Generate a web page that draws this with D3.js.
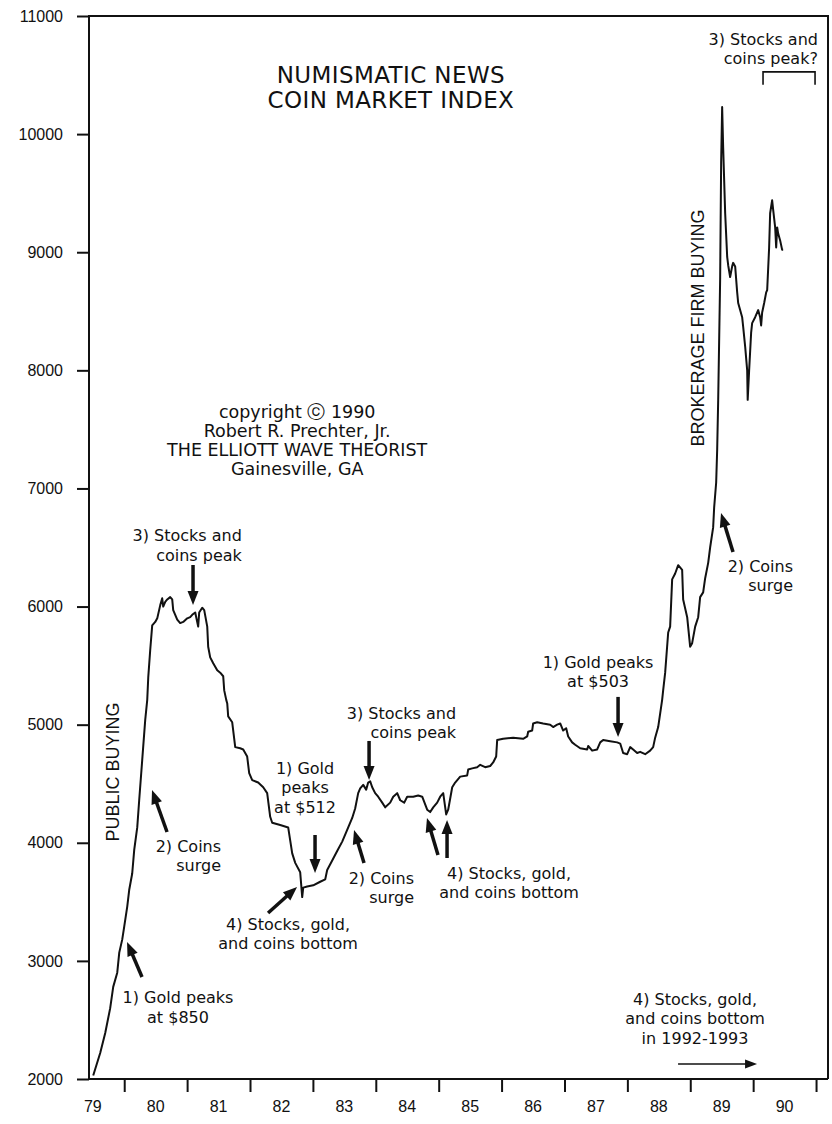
<!DOCTYPE html>
<html>
<head>
<meta charset="utf-8">
<script src="https://cdn.jsdelivr.net/npm/d3@7"></script>
<style>
body { margin: 0; background: #fff; }
text { fill: #111; }
.ann { font-family: "DejaVu Sans", sans-serif; font-size: 16px; }
.title { font-family: "DejaVu Sans", sans-serif; font-size: 23px; letter-spacing: 0.4px; }
.copy { font-family: "DejaVu Sans", sans-serif; font-size: 17.5px; }
.vert { font-family: "Liberation Sans", Arial, sans-serif; font-size: 18px; }
.tl { font-family: "Liberation Sans", Arial, sans-serif; font-size: 16px; }
</style>
</head>
<body>
<svg width="832" height="1124"></svg>
<script>
// Coin market index (decimal year, index value)
var dates = [
 1979.507,1979.618,1979.698,1979.777,1979.825,1979.889,1979.921,1979.968,1980.000,1980.048,
 1980.079,1980.127,1980.159,1980.207,1980.238,1980.286,1980.334,1980.366,1980.382,1980.413,
 1980.445,1980.493,1980.525,1980.572,1980.604,1980.620,1980.652,1980.684,1980.731,1980.763,
 1980.779,1980.843,1980.890,1980.938,1981.002,1981.049,1981.081,1981.129,1981.176,1981.192,
 1981.240,1981.272,1981.320,1981.335,1981.367,1981.415,1981.479,1981.526,1981.574,1981.590,
 1981.622,1981.638,1981.653,1981.717,1981.765,1981.844,1981.892,1981.955,1981.987,1982.035,
 1982.130,1982.210,1982.273,1982.321,1982.353,1982.480,1982.607,1982.639,1982.671,1982.719,
 1982.798,1982.830,1982.846,1982.909,1983.005,1983.116,1983.196,1983.227,1983.307,1983.386,
 1983.466,1983.545,1983.625,1983.672,1983.720,1983.752,1983.800,1983.847,1983.879,1983.911,
 1983.943,1983.990,1984.038,1984.102,1984.149,1984.229,1984.277,1984.340,1984.388,1984.452,
 1984.499,1984.595,1984.674,1984.738,1984.817,1984.865,1984.913,1984.976,1985.024,1985.072,
 1985.119,1985.151,1985.215,1985.262,1985.342,1985.453,1985.469,1985.533,1985.612,1985.660,
 1985.739,1985.819,1985.866,1985.914,1985.930,1986.025,1986.184,1986.343,1986.407,1986.423,
 1986.486,1986.502,1986.566,1986.661,1986.773,1986.820,1986.884,1986.932,1986.979,1987.027,
 1987.059,1987.122,1987.170,1987.250,1987.361,1987.377,1987.440,1987.520,1987.568,1987.615,
 1987.727,1987.838,1987.886,1987.933,1987.997,1988.045,1988.092,1988.156,1988.203,1988.283,
 1988.362,1988.410,1988.442,1988.490,1988.553,1988.569,1988.601,1988.649,1988.680,1988.712,
 1988.760,1988.808,1988.871,1988.887,1988.951,1988.998,1989.030,1989.078,1989.126,1989.157,
 1989.205,1989.237,1989.285,1989.316,1989.364,1989.380,1989.412,1989.428,1989.444,1989.475,
 1989.491,1989.507,1989.523,1989.555,1989.587,1989.603,1989.634,1989.666,1989.682,1989.714,
 1989.746,1989.762,1989.793,1989.825,1989.841,1989.873,1989.905,1989.913,1989.936,1989.968,
 1989.984,1990.032,1990.064,1990.080,1990.111,1990.127,1990.143,1990.175,1990.207,1990.223,
 1990.254,1990.270,1990.302,1990.318,1990.350,1990.366,1990.382,1990.397,1990.429,1990.461,
 1990.477
];
var values = [
 2030,2220,2390,2600,2780,2900,3070,3180,3290,3460,
 3600,3740,3940,4130,4360,4700,5040,5210,5400,5630,
 5840,5870,5900,6010,6070,6000,6040,6060,6080,6060,
 5970,5890,5860,5870,5900,5910,5930,5950,5830,5950,
 5990,5970,5830,5660,5570,5520,5460,5440,5410,5290,
 5210,5180,5070,5020,4810,4800,4790,4730,4590,4530,
 4510,4470,4420,4220,4170,4150,4130,4020,3910,3830,
 3750,3540,3620,3630,3640,3670,3690,3770,3850,3930,
 4010,4110,4210,4290,4420,4460,4490,4450,4510,4520,
 4470,4420,4390,4340,4300,4340,4390,4420,4360,4340,
 4390,4390,4400,4390,4280,4260,4300,4340,4390,4420,
 4240,4280,4470,4510,4560,4570,4620,4630,4640,4660,
 4640,4650,4680,4730,4870,4880,4890,4880,4900,4940,
 4950,5010,5020,5010,5000,4980,5000,5010,4950,4970,
 4900,4850,4830,4800,4790,4820,4780,4790,4850,4870,
 4860,4850,4840,4760,4750,4810,4790,4760,4770,4750,
 4780,4810,4890,4980,5210,5290,5440,5780,5830,6230,
 6280,6350,6310,6060,5910,5660,5690,5830,5910,6080,
 6120,6240,6370,6500,6670,6840,7050,7330,7750,8770,
 9760,10230,9890,9330,8960,8890,8790,8880,8910,8880,
 8660,8570,8510,8450,8370,8200,8000,7750,8000,8320,
 8400,8450,8490,8510,8450,8380,8490,8570,8660,8680,
 9040,9330,9440,9360,9210,9040,9210,9160,9100,9020,
 9020
];
var yTicks = [2000, 3000, 4000, 5000, 6000, 7000, 8000, 9000, 10000, 11000];
var yearTicks = [1980, 1981, 1982, 1983, 1984, 1985, 1986, 1987, 1988, 1989, 1990, 1991];
var yearLabels = ["79", "80", "81", "82", "83", "84", "85", "86", "87", "88", "89", "90"];

// text notes, anchored in (year, index) units
var notes = [
  {cls: "title", lines: ["NUMISMATIC NEWS", "COIN MARKET INDEX"], date: 1984.24, value: 10434, anchor: "middle", lh: 25},
  {cls: "copy", lines: ["copyright \u24D2 1990", "Robert R. Prechter, Jr.", "THE ELLIOTT WAVE THEORIST", "Gainesville, GA"], date: 1982.75, value: 7597, anchor: "middle", lh: 19},
  {cls: "ann", lines: ["3) Stocks and", "coins peak"], date: 1981.87, value: 6555, anchor: "end", lh: 20},
  {cls: "ann", lines: ["1) Gold peaks", "at $850"], date: 1980.855, value: 2644, anchor: "middle", lh: 20},
  {cls: "ann", lines: ["2) Coins", "surge"], date: 1981.54, value: 3922, anchor: "end", lh: 19},
  {cls: "ann", lines: ["1) Gold", "peaks", "at $512"], date: 1982.875, value: 4583, anchor: "middle", lh: 19.5},
  {cls: "ann", lines: ["3) Stocks and", "coins peak"], date: 1985.276, value: 5048, anchor: "end", lh: 19},
  {cls: "ann", lines: ["2) Coins", "surge"], date: 1984.608, value: 3651, anchor: "end", lh: 19},
  {cls: "ann", lines: ["4) Stocks, gold,", "and coins bottom"], date: 1982.605, value: 3262, anchor: "middle", lh: 19},
  {cls: "ann", lines: ["4) Stocks, gold,", "and coins bottom"], date: 1986.119, value: 3693, anchor: "middle", lh: 19},
  {cls: "ann", lines: ["1) Gold peaks", "at $503"], date: 1987.534, value: 5480, anchor: "middle", lh: 19},
  {cls: "ann", lines: ["2) Coins", "surge"], date: 1990.634, value: 6293, anchor: "end", lh: 19},
  {cls: "ann", lines: ["3) Stocks and", "coins peak?"], date: 1991.03, value: 10755, anchor: "end", lh: 19},
  {cls: "ann", lines: ["4) Stocks, gold,", "and coins bottom", "in 1992-1993"], date: 1989.076, value: 2627, anchor: "middle", lh: 19.5}
];
var vertNotes = [
  {text: "PUBLIC BUYING", date: 1979.822, value: 4600},
  {text: "BROKERAGE FIRM BUYING", date: 1989.124, value: 8359}
];
var arrows = [
  {from: [1981.094, 6352], to: [1981.094, 6014]},
  {from: [1980.283, 2864], to: [1980.045, 3160]},
  {from: [1980.681, 4091], to: [1980.442, 4447]},
  {from: [1983.034, 4066], to: [1983.034, 3744]},
  {from: [1983.893, 4862], to: [1983.893, 4532]},
  {from: [1983.813, 3829], to: [1983.654, 4108]},
  {from: [1982.287, 3406], to: [1982.748, 3626]},
  {from: [1984.989, 3897], to: [1984.814, 4210]},
  {from: [1985.133, 3871], to: [1985.133, 4193]},
  {from: [1987.852, 5235], to: [1987.852, 4896]},
  {from: [1989.680, 6462], to: [1989.489, 6793]},
  {from: [1988.806, 2127], to: [1990.062, 2127], thin: true}
];
var bracket = {d0: 1990.157, d1: 1990.984, top: 10527, bottom: 10417};

var svg = d3.select("svg");

var x = d3.scaleLinear().domain([1979.44, 1991.19]).range([89, 828]);
var y = d3.scaleLinear().domain([2000, 11000]).range([1079, 16]);

// frame
svg.append("path")
    .attr("d", "M" + x(1991.19) + "," + y(2000) + "V" + y(11000) + "H" + x(1979.44) + "V" + y(2000) + "H" + x(1991.19))
    .attr("fill", "none")
    .attr("stroke", "#111")
    .attr("stroke-width", 2);

// y axis
var yAxis = d3.axisLeft(y).tickValues(yTicks).tickSize(12).tickPadding(14).tickFormat(d3.format("d"));
var gy = svg.append("g").attr("transform", "translate(" + x(1979.44) + ",0)").call(yAxis);
gy.select(".domain").remove();
gy.selectAll("line").attr("stroke", "#111").attr("stroke-width", 2);
gy.selectAll("text").attr("class", "tl").attr("font-family", null).attr("font-size", null);

// x axis: ticks at year starts, labels centred in each year
var xAxis = d3.axisBottom(x).tickValues(yearTicks).tickSize(13).tickFormat("");
var gx = svg.append("g").attr("transform", "translate(0," + y(2000) + ")").call(xAxis);
gx.select(".domain").remove();
gx.selectAll("line").attr("stroke", "#111").attr("stroke-width", 2);

svg.append("g").selectAll("text")
    .data(yearLabels)
  .enter().append("text")
    .attr("class", "tl")
    .attr("x", function(d, i) { return x(1979.5 + i); })
    .attr("y", y(2000) + 33)
    .attr("text-anchor", "middle")
    .text(function(d) { return d; });

// the index line
var line = d3.line()
    .x(function(d) { return x(d[0]); })
    .y(function(d) { return y(d[1]); });

svg.append("path")
    .datum(d3.zip(dates, values))
    .attr("d", line)
    .attr("fill", "none")
    .attr("stroke", "#111")
    .attr("stroke-width", 2)
    .attr("stroke-linejoin", "round");

// notes
notes.forEach(function(n) {
  var t = svg.append("text")
      .attr("class", n.cls)
      .attr("text-anchor", n.anchor)
      .attr("x", x(n.date))
      .attr("y", y(n.value));
  n.lines.forEach(function(l, i) {
    t.append("tspan")
        .attr("x", x(n.date))
        .attr("dy", i === 0 ? 0 : n.lh)
        .text(l);
  });
});

vertNotes.forEach(function(n) {
  svg.append("text")
      .attr("class", "vert")
      .attr("text-anchor", "middle")
      .attr("dominant-baseline", "central")
      .attr("transform", "translate(" + x(n.date) + "," + y(n.value) + ") rotate(-90)")
      .text(n.text);
});

// arrows
arrows.forEach(function(a) {
  var x1 = x(a.from[0]), y1 = y(a.from[1]), x2 = x(a.to[0]), y2 = y(a.to[1]);
  var len = Math.sqrt((x2 - x1) * (x2 - x1) + (y2 - y1) * (y2 - y1));
  var ux = (x2 - x1) / len, uy = (y2 - y1) / len;
  var hl = a.thin ? 12 : 14, hw = a.thin ? 4.5 : 5.5;
  var bx = x2 - ux * hl, by = y2 - uy * hl;
  svg.append("line")
      .attr("x1", x1).attr("y1", y1)
      .attr("x2", bx + ux * 2).attr("y2", by + uy * 2)
      .attr("stroke", "#111")
      .attr("stroke-width", a.thin ? 1.6 : 3.5);
  svg.append("path")
      .attr("d", "M" + x2 + "," + y2 +
        "L" + (bx - uy * hw) + "," + (by + ux * hw) +
        "L" + (bx + uy * hw) + "," + (by - ux * hw) + "Z")
      .attr("fill", "#111");
});

// bracket over the 1990 window
svg.append("path")
    .attr("d", "M" + x(bracket.d0) + "," + y(bracket.bottom) + "V" + y(bracket.top) +
      "H" + x(bracket.d1) + "V" + y(bracket.bottom))
    .attr("fill", "none")
    .attr("stroke", "#111")
    .attr("stroke-width", 1.6);
</script>
</body>
</html>
